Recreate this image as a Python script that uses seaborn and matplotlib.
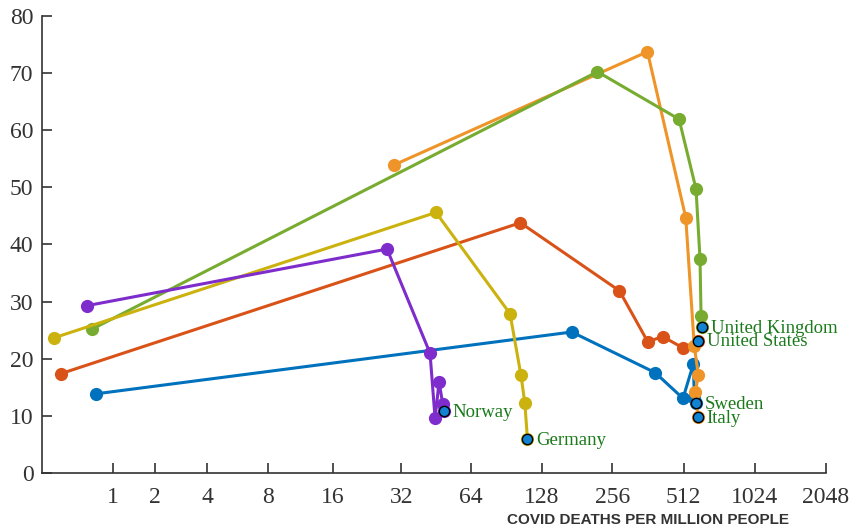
import matplotlib
matplotlib.use("Agg")
import matplotlib.pyplot as plt
import numpy as np
import pandas as pd
import seaborn as sns

# path of each country, oldest point first, last point is the labelled one
countries = ["Sweden", "United States", "Italy", "United Kingdom", "Germany", "Norway"]

deaths = {
    "Sweden": [0.7, 172, 388, 509, 563, 569, 578],
    "United States": [0.2, 104, 274, 361, 418, 510, 589],
    "Italy": [29.7, 360, 523, 568, 591, 575, 588],
    "United Kingdom": [0.63, 221, 490, 578, 601, 607, 611],
    "Germany": [0.13, 45.2, 93.9, 104.6, 108.6, 111.4],
    "Norway": [0.55, 27.7, 42.6, 44.8, 46.6, 48.3, 48.8],
}
share = {
    "Sweden": [13.9, 24.7, 17.6, 13.1, 19.1, 13.1, 12.3],
    "United States": [17.4, 43.8, 31.9, 23.0, 23.9, 21.9, 23.2],
    "Italy": [53.9, 73.7, 44.7, 22.3, 17.2, 14.3, 9.9],
    "United Kingdom": [25.2, 70.2, 61.9, 49.7, 37.4, 27.5, 25.6],
    "Germany": [23.7, 45.6, 27.9, 17.1, 12.3, 6.0],
    "Norway": [29.3, 39.2, 21.0, 9.6, 16.0, 12.2, 10.9],
}
colors = {
    "Sweden": "#0072BD",
    "United States": "#D95319",
    "Italy": "#EF9428",
    "United Kingdom": "#77AC30",
    "Germany": "#CBB20E",
    "Norway": "#7E2CCB",
}

xticks = [1, 2, 4, 8, 16, 32, 64, 128, 256, 512, 1024, 2048]
yticks = [0, 10, 20, 30, 40, 50, 60, 70, 80]

rows = []
for c in countries:
    for i, (x, y) in enumerate(zip(deaths[c], share[c])):
        rows.append({"country": c, "step": i, "deaths": x, "share": y})
df = pd.DataFrame(rows)
last = df.groupby("country", sort=False).tail(1)

sns.set_style("ticks")
plt.rcParams["font.family"] = ["Liberation Serif", "DejaVu Serif"]

fig = plt.figure(figsize=(8.52, 5.28), dpi=100)
ax = fig.add_axes([0.049, 0.1036, 0.9205, 0.8667])
ax.set_xscale("function", functions=(lambda v: np.log2(1 + np.maximum(v, 0)),
                                      lambda v: 2.0 ** v - 1))

sns.lineplot(data=df, x="deaths", y="share", hue="country", hue_order=countries,
             palette=colors, sort=False, estimator=None, marker="o",
             markersize=9.5, markeredgewidth=0, linewidth=2.2, legend=False, ax=ax)

ax.scatter(last["deaths"], last["share"], s=55, color="#1282D2",
           edgecolor="black", linewidth=1.0, zorder=5)

for _, r in last.iterrows():
    ax.annotate(r["country"], (r["deaths"], r["share"]), xytext=(6.5, -1),
                textcoords="offset points", va="center", ha="left",
                fontsize=13.5, color="#1B7A1B")

ax.set_xlim(0, 2048)
ax.set_ylim(0, 80)
ax.set_xticks(xticks)
ax.set_xticklabels([str(t) for t in xticks])
ax.set_yticks(yticks)
ax.minorticks_off()
ax.tick_params(direction="in", length=7, width=1.2, colors="#333333",
               labelsize=17, pad=10)
ax.tick_params(axis="y", pad=6)
for s in ["left", "bottom"]:
    ax.spines[s].set_color("#333333")
    ax.spines[s].set_linewidth(1.2)
sns.despine(ax=ax)

ax.set_ylabel("")
ax.set_xlabel("COVID DEATHS PER MILLION PEOPLE", fontsize=11, fontweight="bold",
              family="Liberation Sans", color="#333333")
ax.xaxis.set_label_coords(0.773, -0.086)

fig.savefig("out.png", dpi=100)
